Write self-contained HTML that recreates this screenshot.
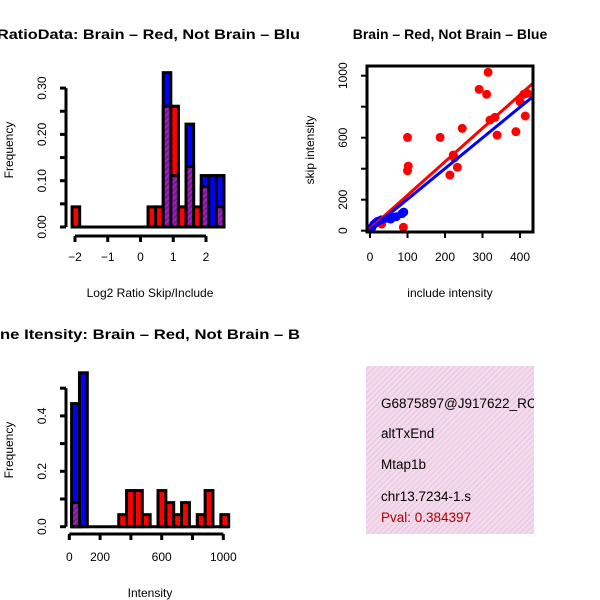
<!DOCTYPE html>
<html><head><meta charset="utf-8"><style>
html,body{margin:0;padding:0;background:#fff}
svg{display:block;font-family:"Liberation Sans",sans-serif}
</style></head><body>
<svg id="c" width="600" height="600" viewBox="0 0 600 600" xmlns="http://www.w3.org/2000/svg">
<defs>
<pattern id="hatch" width="4" height="4" patternUnits="userSpaceOnUse" patternTransform="rotate(45)">
<rect width="4" height="4" fill="#a020c0"/><rect width="2" height="4" fill="#7a1890"/>
</pattern>
<pattern id="pinkhatch" width="4" height="4" patternUnits="userSpaceOnUse" patternTransform="rotate(45)">
<rect width="4" height="4" fill="#f8d8f4"/><rect width="1.3" height="4" fill="#e0d0d0"/>
</pattern>
<clipPath id="clipL"><rect x="0" y="0" width="300" height="600"/></clipPath>
<clipPath id="clipBox"><rect x="367" y="66" width="166" height="166"/></clipPath>
<clipPath id="clipInfo"><rect x="366" y="366" width="168" height="168"/></clipPath>
</defs>
<g id="g1"></g>
<g id="g2"></g>
<g id="g3"></g>
<g>
<rect x="366" y="366" width="168" height="168" fill="url(#pinkhatch)"/>
<g clip-path="url(#clipInfo)" font-size="13.5">
<text x="381" y="408">G6875897@J917622_RC</text>
<text x="381" y="438">altTxEnd</text>
<text x="381" y="469">Mtap1b</text>
<text x="381" y="501">chr13.7234-1.s</text>
<text x="381" y="522" fill="#b00000">Pval: 0.384397</text>
</g>
</g>
</svg>
<script>
// ---- Ratio histogram data ----
const ratioBinStart = -2.09;
const ratioBinWidth = 0.232;
const ratioRedCounts = [1,0,0,0,0,0,0,0,0,0,1,1,6,6,1,3,1,2,0,1];
const ratioBlueCounts = [0,0,0,0,0,0,0,0,0,0,0,0,3,1,0,2,0,1,1,1];
const ratioRedTotal = 23, ratioBlueTotal = 9;
const ratioXTicks = [-2,-1,0,1,2];
const ratioYTicks = [0,0.05,0.1,0.15,0.2,0.25,0.3];
const ratioYLabels = ["0.00","","0.10","","0.20","","0.30"];

// ---- Scatter data ----
const redX = [315,291,311,420,400,414,389,339,320,333,246,187,100,102,100,222,233,213,89,31,225,410];
const redY = [1022,912,880,886,832,740,639,617,714,731,660,602,602,417,387,488,409,359,22,43,470,880];
const blueX = [5,10,20,30,45,55,70,85,90,15,60];
const blueY = [20,40,60,70,80,75,90,110,120,50,85];
const redFit = [13,2.16];   // intercept, slope
const blueFit = [5,1.98];
const scXTicks = [0,100,200,300,400];
const scYTicks = [0,200,400,600,800,1000];
const scYLabels = ["0","200","","600","","1000"];

// ---- Intensity histogram data ----
const intBinStart = 15;
const intBinWidth = 51;
const intRedCounts = [2,0,0,0,0,0,1,3,3,1,0,3,2,1,2,0,1,3,0,1];
const intBlueCounts = [4,5,0,0,0,0,0,0,0,0,0,0,0,0,0,0,0,0,0,0];
const intXTicks = [0,200,400,600,800,1000];
const intXLabels = ["0","200","","600","","1000"];
const intYTicks = [0,0.1,0.2,0.3,0.4,0.5];
const intYLabels = ["0.0","","0.2","","0.4",""];

const NS="http://www.w3.org/2000/svg";
function mk(parent,tag,attrs,text){const e=document.createElementNS(NS,tag);for(const k in attrs)e.setAttribute(k,attrs[k]);if(text!==undefined)e.textContent=text;parent.appendChild(e);return e;}

function histogram(g, cfg){
  const {bin0,bw,red,blue,rt,bt,xs,ys} = cfg;
  for(let i=0;i<red.length;i++){
    const r=red[i]/rt, b=blue[i]/bt;
    const x0=xs(bin0+i*bw), x1=xs(bin0+(i+1)*bw);
    if(r===0&&b===0) continue;
    const big=Math.max(r,b), small=Math.min(r,b);
    const col = r>=b ? "#ff0000" : "#0000ff";
    const e=mk(g,"rect",{x:x0,y:ys(big),width:x1-x0,height:ys(0)-ys(big),fill:col,stroke:"#000","stroke-width":3});
    
    
    if(small>0){
      const p=mk(g,"rect",{x:x0,y:ys(small),width:x1-x0,height:ys(0)-ys(small),fill:"url(#hatch)",stroke:"#000","stroke-width":3});
      
      
    }
  }
}

// Panel 1
(function(){
  const g=document.getElementById('g1');
  const xs=v=>75+(v+2)*32.75, ys=v=>227-v*463;
  const L=mk(g,"g",{"clip-path":"url(#clipL)"});
  const t=mk(L,"text",{x:-3,y:39,"font-size":14,"font-weight":"bold",textLength:303,lengthAdjust:"spacingAndGlyphs"},"RatioData: Brain \u2013 Red, Not Brain \u2013 Blu");
  
  
  const bl=mk(g,"line",{x1:xs(ratioBinStart),x2:xs(ratioBinStart+ratioRedCounts.length*ratioBinWidth),y1:ys(0),y2:ys(0),stroke:"#000","stroke-width":3});
  
  
  histogram(g,{bin0:ratioBinStart,bw:ratioBinWidth,red:ratioRedCounts,blue:ratioBlueCounts,rt:ratioRedTotal,bt:ratioBlueTotal,xs,ys});
  const xa=mk(g,"g",{});
  
  
  mk(xa,"line",{x1:xs(-2),x2:xs(2),y1:236,y2:236,stroke:"#000","stroke-width":3});
  ratioXTicks.forEach(v=>{mk(xa,"line",{x1:xs(v),x2:xs(v),y1:236,y2:242,stroke:"#000","stroke-width":3});
    const tl=mk(xa,"text",{x:xs(v),y:261,"font-size":12,"text-anchor":"middle"},v<0?"\u2212"+Math.abs(v):String(v));
    
    });
  const ya=mk(g,"g",{});
  
  
  mk(ya,"line",{x1:66,x2:66,y1:ys(0.3),y2:ys(0),stroke:"#000","stroke-width":3});
  ratioYTicks.forEach((v,i)=>{mk(ya,"line",{x1:60,x2:66,y1:ys(v),y2:ys(v),stroke:"#000","stroke-width":3});
    if(ratioYLabels[i]){const tl=mk(ya,"text",{x:0,y:0,"font-size":12,"text-anchor":"middle",transform:`translate(46,${ys(v)}) rotate(-90)`},ratioYLabels[i]);
    
    }});
  const xt=mk(g,"text",{x:150,y:297,"font-size":12,"text-anchor":"middle"},"Log2 Ratio Skip/Include");
  
  
  const yt=mk(g,"text",{x:0,y:0,"font-size":12,"text-anchor":"middle",transform:"translate(13,150) rotate(-90)"},"Frequency");
  
  
})();

// Panel 2
(function(){
  const g=document.getElementById('g2');
  const xs=v=>370+v*0.375, ys=v=>230.7-v*0.155;
  const t=mk(g,"text",{x:450,y:39,"font-size":14,"font-weight":"bold","text-anchor":"middle"},"Brain \u2013 Red, Not Brain \u2013 Blue");
  
  
  const pts=mk(g,"g",{"clip-path":"url(#clipBox)"});
  redX.forEach((x,i)=>{const c=mk(pts,"circle",{cx:xs(x),cy:ys(redY[i]),r:4.5,fill:"#ff0000"});
    
    });
  blueX.forEach((x,i)=>{const c=mk(pts,"circle",{cx:xs(x),cy:ys(blueY[i]),r:4.5,fill:"#0000ff"});
    
    });
  const rl=mk(pts,"line",{x1:xs(-20),y1:ys(redFit[0]+redFit[1]*-20),x2:xs(460),y2:ys(redFit[0]+redFit[1]*460),stroke:"#ff0000","stroke-width":3});
  
  
  const bl=mk(pts,"line",{x1:xs(-20),y1:ys(blueFit[0]+blueFit[1]*-20),x2:xs(460),y2:ys(blueFit[0]+blueFit[1]*460),stroke:"#0000ff","stroke-width":3});
  
  
  const box=mk(g,"rect",{x:367,y:66,width:166,height:166,fill:"none",stroke:"#000","stroke-width":3});
  
  
  scXTicks.forEach(v=>{mk(g,"line",{x1:xs(v),x2:xs(v),y1:232,y2:238,stroke:"#000","stroke-width":2});
    const tl=mk(g,"text",{x:xs(v),y:261,"font-size":12,"text-anchor":"middle"},String(v));
    
    });
  scYTicks.forEach((v,i)=>{mk(g,"line",{x1:361,x2:367,y1:ys(v),y2:ys(v),stroke:"#000","stroke-width":2});
    if(scYLabels[i]){const tl=mk(g,"text",{x:0,y:0,"font-size":12,"text-anchor":"middle",transform:`translate(347,${ys(v)}) rotate(-90)`},scYLabels[i]);
    
    }});
  const xt=mk(g,"text",{x:450,y:297,"font-size":12,"text-anchor":"middle"},"include intensity");
  
  
  const yt=mk(g,"text",{x:0,y:0,"font-size":12,"text-anchor":"middle",transform:"translate(314,150) rotate(-90)"},"skip intensity");
  
  
})();

// Panel 3
(function(){
  const g=document.getElementById('g3');
  const xs=v=>69.3+v*0.154, ys=v=>526.7-v*277;
  const L=mk(g,"g",{"clip-path":"url(#clipL)"});
  const t=mk(L,"text",{x:0,y:339,"font-size":14,"font-weight":"bold",textLength:300,lengthAdjust:"spacingAndGlyphs"},"ne Itensity: Brain \u2013 Red, Not Brain \u2013 B");
  
  
  const bl=mk(g,"line",{x1:xs(intBinStart),x2:xs(intBinStart+intRedCounts.length*intBinWidth),y1:ys(0),y2:ys(0),stroke:"#000","stroke-width":3});
  
  
  histogram(g,{bin0:intBinStart,bw:intBinWidth,red:intRedCounts,blue:intBlueCounts,rt:23,bt:9,xs,ys});
  const xa=mk(g,"g",{});
  
  
  mk(xa,"line",{x1:xs(0),x2:xs(1000),y1:534,y2:534,stroke:"#000","stroke-width":3});
  intXTicks.forEach((v,i)=>{mk(xa,"line",{x1:xs(v),x2:xs(v),y1:534,y2:540,stroke:"#000","stroke-width":3});
    if(intXLabels[i]){const tl=mk(xa,"text",{x:xs(v),y:561,"font-size":12,"text-anchor":"middle"},intXLabels[i]);
    
    }});
  const ya=mk(g,"g",{});
  
  
  mk(ya,"line",{x1:66,x2:66,y1:ys(0.5),y2:ys(0),stroke:"#000","stroke-width":3});
  intYTicks.forEach((v,i)=>{mk(ya,"line",{x1:60,x2:66,y1:ys(v),y2:ys(v),stroke:"#000","stroke-width":3});
    if(intYLabels[i]){const tl=mk(ya,"text",{x:0,y:0,"font-size":12,"text-anchor":"middle",transform:`translate(46,${ys(v)}) rotate(-90)`},intYLabels[i]);
    
    }});
  const xt=mk(g,"text",{x:150,y:597,"font-size":12,"text-anchor":"middle"},"Intensity");
  
  
  const yt=mk(g,"text",{x:0,y:0,"font-size":12,"text-anchor":"middle",transform:"translate(13,450) rotate(-90)"},"Frequency");
  
  
})();
</script>
</body></html>
